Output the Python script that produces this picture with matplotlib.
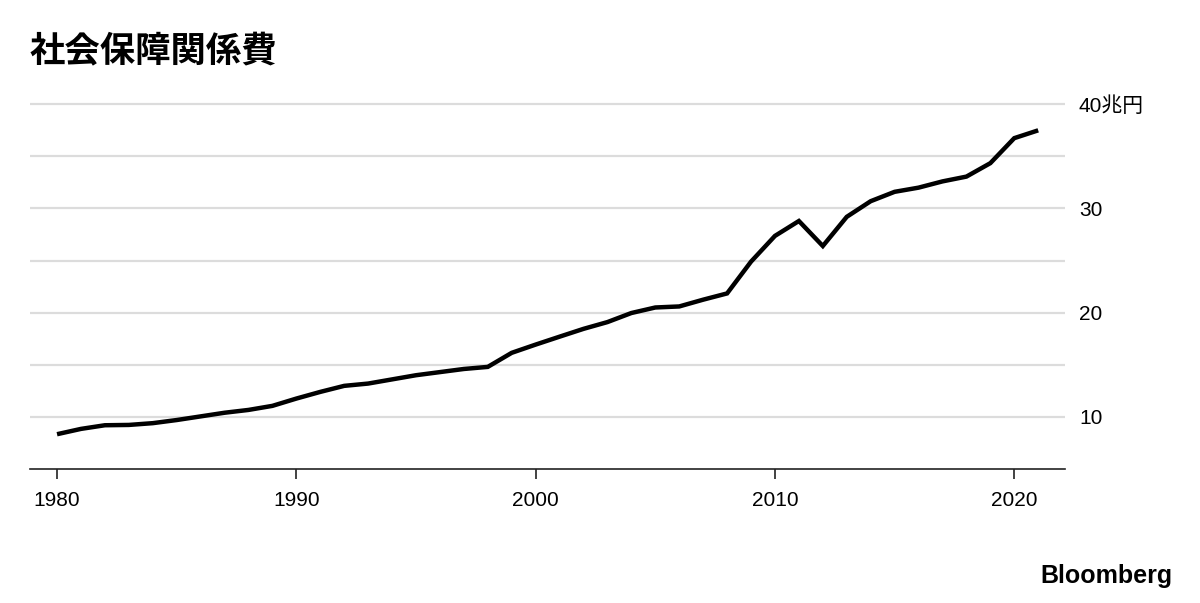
import matplotlib
matplotlib.use("Agg")
import matplotlib.pyplot as plt

plt.rcParams['font.family'] = ['Liberation Sans', 'Noto Sans CJK JP', 'DejaVu Sans']

years = list(range(1980, 2022))
values = [8.34, 8.85, 9.2, 9.23, 9.4, 9.7, 10.05, 10.4, 10.67, 11.06,
          11.76, 12.4, 12.98, 13.2, 13.6, 14.0, 14.3, 14.6, 14.8, 16.15,
          16.94, 17.7, 18.45, 19.1, 19.97, 20.5, 20.6, 21.25, 21.85, 24.9,
          27.37, 28.8, 26.4, 29.2, 30.7, 31.6, 32.0, 32.6, 33.06, 34.35,
          36.75, 37.5]
title = "社会保障関係費"
xticks = [1980, 1990, 2000, 2010, 2020]
yticks = [10, 20, 30, 40]
ytick_labels = ["10", "20", "30", "40兆円"]
grid_levels = [10, 15, 20, 25, 30, 35, 40]

fig = plt.figure(figsize=(12, 6.03), dpi=100)
ax = fig.add_axes([0.025, 0.2222, 0.8625, 0.6135])

for g in grid_levels:
    ax.axhline(g, color='#dcdcdc', lw=1.6, zorder=1)

ax.plot(years, values, color='black', lw=3.2, solid_joinstyle='miter',
        solid_capstyle='butt', zorder=3)

ax.set_xlim(1978.87, 2022.12)
ax.set_ylim(5.0, 40.5)

for s in ['top', 'right', 'left']:
    ax.spines[s].set_visible(False)
ax.spines['bottom'].set_color('#222222')
ax.spines['bottom'].set_linewidth(1.2)

ax.set_xticks(xticks)
ax.set_xticklabels([str(x) for x in xticks])
ax.tick_params(axis='x', length=7, width=1.2, color='#222222', pad=9,
               labelsize=15, labelcolor='black')

ax.yaxis.tick_right()
ax.set_yticks(yticks)
ax.set_yticklabels(ytick_labels)
ax.tick_params(axis='y', length=0, pad=10, labelsize=15, labelcolor='black')

fig.text(0.025, 0.916, title, fontsize=25.5, fontweight='bold',
         family=['Noto Sans CJK JP'], ha='left', va='center')
fig.text(0.977, 0.045, "Bloomberg", fontsize=18, fontweight='bold',
         family=['Liberation Sans'], ha='right', va='center')

fig.savefig('out.png', dpi=100)
